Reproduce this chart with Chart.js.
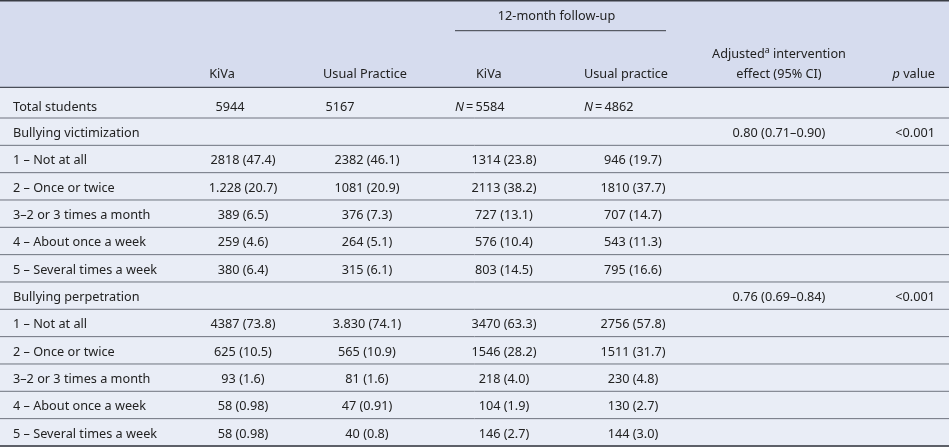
<!DOCTYPE html>
<html><head><meta charset="utf-8">
<script src="https://cdn.jsdelivr.net/npm/chart.js@4"></script>
<style>html,body{margin:0;padding:0;background:#fff;overflow:hidden}#wrap{width:949px;height:447px;position:relative}canvas{display:block}</style>
</head><body><div id="wrap"><canvas id="c" width="949" height="447" style="width:949px;height:447px"></canvas></div>
<script>
// ---------- data ----------
const rowLabels = ['Total students','Bullying victimization','1 – Not at all','2 – Once or twice','3–2 or 3 times a month','4 – About once a week','5 – Several times a week','Bullying perpetration','1 – Not at all','2 – Once or twice','3–2 or 3 times a month','4 – About once a week','5 – Several times a week'];
const kivaBaseline = ['5944','','2818 (47.4)','1.228 (20.7)','389 (6.5)','259 (4.6)','380 (6.4)','','4387 (73.8)','625 (10.5)','93 (1.6)','58 (0.98)','58 (0.98)'];
const usualBaseline = ['5167','','2382 (46.1)','1081 (20.9)','376 (7.3)','264 (5.1)','315 (6.1)','','3.830 (74.1)','565 (10.9)','81 (1.6)','47 (0.91)','40 (0.8)'];
const kivaFollowUp = ['_N_\u2009=\u20095584','','1314 (23.8)','2113 (38.2)','727 (13.1)','576 (10.4)','803 (14.5)','','3470 (63.3)','1546 (28.2)','218 (4.0)','104 (1.9)','146 (2.7)'];
const usualFollowUp = ['_N_\u2009=\u20094862','','946 (19.7)','1810 (37.7)','707 (14.7)','543 (11.3)','795 (16.6)','','2756 (57.8)','1511 (31.7)','230 (4.8)','130 (2.7)','144 (3.0)'];
const effectCI = ['','0.80 (0.71–0.90)','','','','','','0.76 (0.69–0.84)','','','','',''];
const pValues = ['','<0.001','','','','','','<0.001','','','','',''];
const columnHeaders = ['','KiVa','Usual Practice','KiVa','Usual practice','Adjusted^a^ intervention|effect (95% CI)','_p_ value'];
const spanHeader = '12-month follow-up';

// ---------- layout ----------
const W = 949, H = 447;
const FONT = '"Noto Sans", "Open Sans", sans-serif';
const FS = 12.7;
const COLS = [
  {x:13,  align:'left',   tx:13,  talign:'left',   hx:13,  halign:'left'},
  {x:243, align:'center', tx:230, talign:'center', hx:222, halign:'center'},
  {x:367, align:'center', tx:340, talign:'center', hx:365, halign:'center'},
  {x:504, align:'center', tx:455, talign:'left',   hx:476, halign:'left'},
  {x:633, align:'center', tx:584, talign:'left',   hx:584, halign:'left'},
  {x:779, align:'center', tx:779, talign:'center', hx:779, halign:'center'},
  {x:935, align:'right',  tx:935, talign:'right',  hx:935, halign:'right'}
];
const HEAD_BOTTOM = 87.3, TOTAL_BOTTOM = 118, ROW_H = 27.33;
const HEAD_BASE = 78, HEAD_BASE_UP = 57.5, SPAN_BASE = 20, SPAN_RULE = 30.7;
const SPAN_X0 = 455, SPAN_X1 = 666;
function rowBaseline(i){ return i===0 ? 111 : TOTAL_BOTTOM + (i-0.5)*ROW_H + 5.5; }
function rowLines(){ const a=[TOTAL_BOTTOM]; for(let k=1;k<rowLabels.length-1;k++) a.push(TOTAL_BOTTOM+k*ROW_H); return a; }

const columns = [rowLabels, kivaBaseline, usualBaseline, kivaFollowUp, usualFollowUp, effectCI, pValues];

const datasets = columns.map((vals, j) => ({
  label: columnHeaders[j] || 'label',
  data: vals.map((v, i) => ({x: i===0 ? COLS[j].tx : COLS[j].x, y: rowBaseline(i), t: v, a: i===0 ? COLS[j].talign : COLS[j].align})),
  pointRadius: 0, showLine: false
}));

function segs(str){
  const out=[]; const re=/(_[^_]+_|\^[^^]+\^)/g; let last=0, m;
  while((m=re.exec(str))){ if(m.index>last) out.push({t:str.slice(last,m.index),s:'n'});
    const tok=m[0]; out.push({t:tok.slice(1,-1), s: tok[0]==='_'?'i':'sup'}); last=m.index+tok.length; }
  if(last<str.length) out.push({t:str.slice(last),s:'n'});
  return out;
}
function fontFor(s){ if(s==='i') return 'italic '+FS+'px '+FONT; if(s==='sup') return (FS*0.7)+'px '+FONT; return FS+'px '+FONT; }
function drawRich(ctx, str, x, y, align){
  if(!str) return;
  const parts=segs(str); let w=0;
  parts.forEach(p=>{ctx.font=fontFor(p.s); p.w=ctx.measureText(p.t).width; w+=p.w;});
  let cx = align==='left'?x: align==='right'? x-w : x-w/2;
  parts.forEach(p=>{ctx.font=fontFor(p.s); ctx.fillText(p.t, cx, p.s==='sup'? y-5 : y); cx+=p.w;});
}

const tablePlugin = {
  id:'tablePlugin',
  beforeDraw(chart){
    const {ctx, scales:{x,y}} = chart;
    const X=v=>x.getPixelForValue(v), Y=v=>y.getPixelForValue(v);
    ctx.save();
    ctx.fillStyle='#e9edf6'; ctx.fillRect(X(0),Y(HEAD_BOTTOM),X(W)-X(0),Y(H)-Y(HEAD_BOTTOM));
    ctx.fillStyle='#d6dcee'; ctx.fillRect(X(0),Y(0),X(W)-X(0),Y(HEAD_BOTTOM)-Y(0));
    const hline=(yy,x0,x1,c,lw)=>{ctx.strokeStyle=c;ctx.lineWidth=lw;ctx.beginPath();ctx.moveTo(X(x0),Y(yy));ctx.lineTo(X(x1),Y(yy));ctx.stroke();};
    hline(0.8,0,W,'#3a3d44',1.5);
    hline(HEAD_BOTTOM,0,W,'#4a4e58',1.2);
    rowLines().forEach(v=>hline(v,0,W,'#6e737e',1));
    hline(446,0,W,'#2e3138',1.5);
    hline(SPAN_RULE,SPAN_X0,SPAN_X1,'#3a3d44',1);
    ctx.restore();
  },
  afterDatasetsDraw(chart){
    const {ctx, scales:{x,y}} = chart;
    ctx.save(); ctx.fillStyle='#222'; ctx.textBaseline='alphabetic';
    drawRich(ctx, spanHeader, x.getPixelForValue((SPAN_X0+SPAN_X1)/2 - 4), y.getPixelForValue(SPAN_BASE), 'center');
    columnHeaders.forEach((h,j)=>{
      if(!h) return;
      const lines=h.split('|');
      if(lines.length===2){
        drawRich(ctx, lines[0], x.getPixelForValue(COLS[j].hx), y.getPixelForValue(HEAD_BASE_UP), COLS[j].halign);
        drawRich(ctx, lines[1], x.getPixelForValue(COLS[j].hx), y.getPixelForValue(HEAD_BASE), COLS[j].halign);
      } else drawRich(ctx, h, x.getPixelForValue(COLS[j].hx), y.getPixelForValue(HEAD_BASE), COLS[j].halign);
    });
    chart.data.datasets.forEach((ds,j)=>{
      const meta=chart.getDatasetMeta(j);
      meta.data.forEach((el,i)=>{ const d=ds.data[i]; drawRich(ctx, d.t, el.x, el.y, d.a); });
    });
    ctx.restore();
  }
};

new Chart(document.getElementById('c'), {
  type:'scatter',
  data:{datasets},
  options:{
    responsive:false, animation:false, events:[],
    layout:{padding:0},
    plugins:{legend:{display:false}, tooltip:{enabled:false}},
    scales:{
      x:{type:'linear', min:0, max:W, display:false},
      y:{type:'linear', min:0, max:H, reverse:true, display:false}
    }
  },
  plugins:[tablePlugin]
});
</script></body></html>
